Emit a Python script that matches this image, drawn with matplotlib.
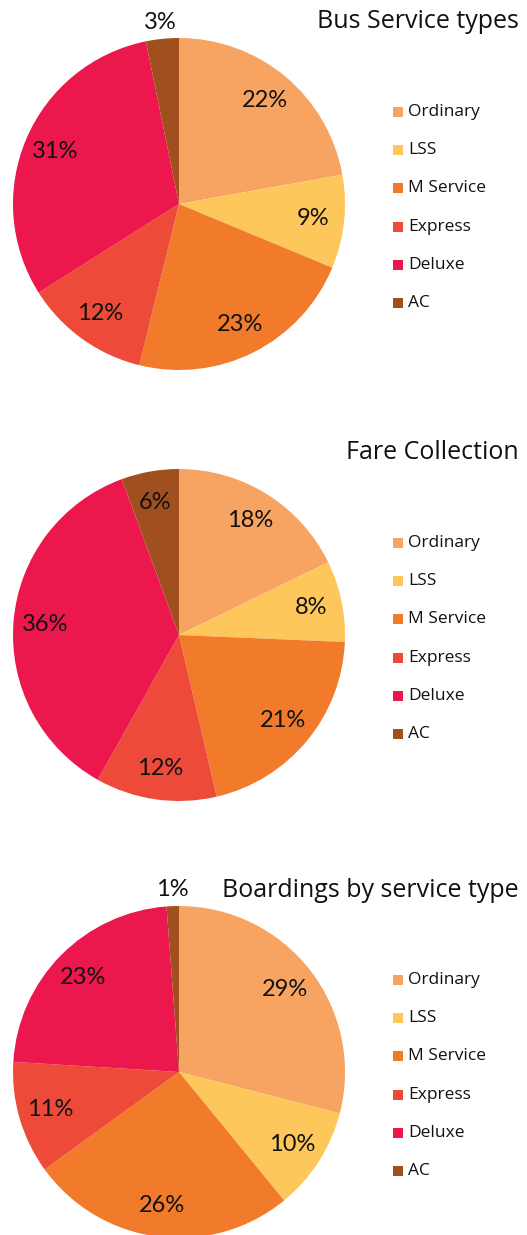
import matplotlib
matplotlib.use("Agg")
import matplotlib.pyplot as plt
from matplotlib.patches import Rectangle

# service types and colours
service_types = ["Ordinary", "LSS", "M Service", "Express", "Deluxe", "AC"]
colors = ["#F7A462", "#FDC75C", "#F27B2B", "#EE4A3A", "#EB174D", "#A0501E"]

# shares (%)
bus_service = [22.2, 9.1, 22.6, 12.2, 30.8, 3.2]
fare_collection = [17.8, 7.9, 20.7, 11.8, 36.3, 5.6]
boardings = [29.1, 10.1, 26.0, 11.0, 22.9, 1.2]

titles = ["Bus Service types", "Fare Collection", "Boardings by service type"]

W, H = 527, 1235
fig = plt.figure(figsize=(W / 100, H / 100), dpi=100)
fig.patch.set_facecolor("white")

# pixel layout (y from top)
cx, rad = 179, 166
centers_y = [204, 635, 1072]
title_base = [28, 459, 897]
legend_y0 = [112, 543, 980]
legend_step = 38.2

lab_font = "Lato"
txt_font = "Open Sans"


def px(x, y):
    return x / W, 1 - y / H


for k, vals in enumerate([bus_service, fare_collection, boardings]):
    cy = centers_y[k]
    ax = fig.add_axes([(cx - rad) / W, (H - cy - rad) / H, 2 * rad / W, 2 * rad / H])
    wedges, texts, autotexts = ax.pie(vals, colors=colors, startangle=90, counterclock=False,
                                      autopct='%.0f%%', pctdistance=0.81, radius=1,
                                      wedgeprops=dict(linewidth=0),
                                      textprops=dict(fontsize=17, family=lab_font, color="#111111"))
    # tiny slices get their label outside
    for v, t in zip(vals, autotexts):
        if v < 4:
            x, y = t.get_position()
            t.set_position((x * 1.1 / 0.81, y * 1.1 / 0.81))
    ax.set_xlim(-1, 1)
    ax.set_ylim(-1, 1)
    ax.set_aspect("equal")
    ax.axis("off")

    tx, ty = px(519, title_base[k])
    fig.text(tx, ty, titles[k], ha="right", va="baseline", fontsize=18, family=txt_font, color="#111111")

    for i, (name, col) in enumerate(zip(service_types, colors)):
        yy = legend_y0[k] + i * legend_step
        x0, y0 = px(393, yy + 5)
        fig.add_artist(Rectangle((x0, y0), 10 / W, 10 / H, transform=fig.transFigure,
                                 facecolor=col, edgecolor="none"))
        lx, ly = px(408, yy)
        fig.text(lx, ly, name, ha="left", va="center", fontsize=12.5, family=txt_font, color="#111111")

fig.savefig("out.png", dpi=100)
